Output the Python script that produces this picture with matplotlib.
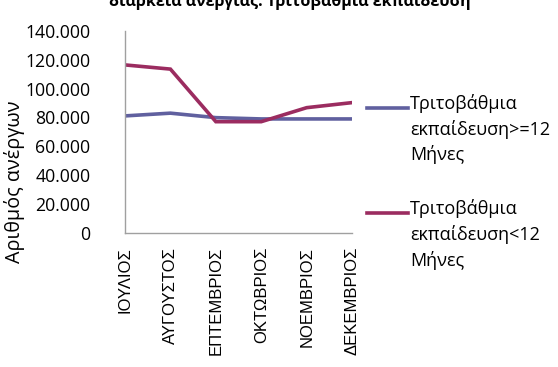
import matplotlib
matplotlib.use("Agg")
import matplotlib.pyplot as plt
from matplotlib.lines import Line2D
from matplotlib.ticker import FuncFormatter

plt.rcParams['font.family'] = ['Open Sans', 'DejaVu Sans']

months = ['ΙΟΥΛΙΟΣ', 'ΑΥΓΟΥΣΤΟΣ', 'ΕΠΤΕΜΒΡΙΟΣ', 'ΟΚΤΩΒΡΙΟΣ', 'ΝΟΕΜΒΡΙΟΣ', 'ΔΕΚΕΜΒΡΙΟΣ']
long_term = [81100, 83000, 79900, 79000, 79000, 79000]
short_term = [116400, 113500, 77100, 77100, 86800, 90300]
labels = ['Τριτοβάθμια\nεκπαίδευση>=12\nΜήνες', 'Τριτοβάθμια\nεκπαίδευση<12\nΜήνες']
colors = ['#60609f', '#9b2c60']

fig = plt.figure(figsize=(5.58, 3.67), dpi=100)
ax = fig.add_axes([0.224, 0.365, 0.407, 0.551])

x = range(len(months))
ax.plot(x, long_term, color=colors[0], lw=2.6, solid_joinstyle='miter')
ax.plot(x, short_term, color=colors[1], lw=2.6, solid_joinstyle='miter')

ax.set_xlim(0, len(months) - 1)
ax.set_ylim(0, 140000)
ax.set_yticks(range(0, 140001, 20000))
ax.yaxis.set_major_formatter(FuncFormatter(lambda v, p: '0' if v == 0 else f'{int(v):,}'.replace(',', '.')))
ax.set_xticks(list(x))
ax.set_xticklabels(months, rotation=90, family=['Liberation Sans', 'DejaVu Sans'], fontsize=12)
ax.tick_params(axis='y', length=0, labelsize=12.7, pad=25)
ax.tick_params(axis='x', length=0, pad=10)
for s in ['top', 'right']:
    ax.spines[s].set_visible(False)
for s in ['left', 'bottom']:
    ax.spines[s].set_color('#a0a0a0')
    ax.spines[s].set_linewidth(1)

ax.set_ylabel('Αριθμός ανέργων', fontsize=14.2, va='center')
ax.yaxis.set_label_coords(-0.485, 0.252)

# legend drawn by hand so the line sits at the first text row
for i, (lab, c) in enumerate(zip(labels, colors)):
    yy = 1 - (108 + 105 * i) / 367
    fig.add_artist(Line2D([367 / 558, 408 / 558], [yy, yy], color=c, lw=2.6,
                          transform=fig.transFigure))
    fig.text(410 / 558, yy + 14 / 367, lab, ha='left', va='top', fontsize=13,
             linespacing=1.45)

fig.text(0.52, 0.984, 'διάρκεια ανεργίας: Τριτοβάθμια εκπαίδευση', ha='center',
         va='baseline', fontsize=11.5, fontweight='bold')

fig.savefig('out.png', dpi=100)
